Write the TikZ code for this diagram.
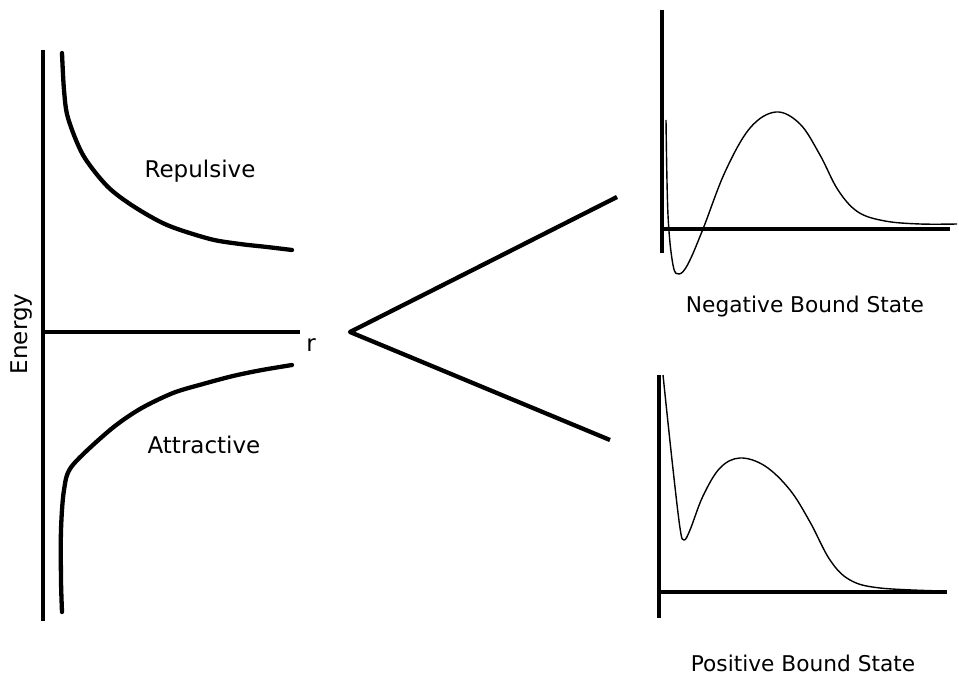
\documentclass[tikz,border=0pt]{standalone}
\usepackage{fontspec}
\setmainfont{DejaVu Sans}
\begin{document}
\begin{tikzpicture}[x=1pt,y=-1pt,
  axis/.style={line width=4pt},
  curve/.style={line width=4.3pt, line join=round, line cap=round},
  wave/.style={line width=1.4pt, line join=round},
  biglabel/.style={font=\fontsize{23}{27}\selectfont, inner sep=0pt},
  statelabel/.style={font=\fontsize{21.7}{26}\selectfont, inner sep=0pt}]
\fill[white] (0,0) rectangle (959,679);
\useasboundingbox (0,0) rectangle (959,679);
% left potential diagram
\coordinate (etop) at (43,50);
\coordinate (ebot) at (43,621);
\coordinate (rend) at (300,332);
\coordinate (origin) at (41,332);
\draw[axis] (etop) -- (ebot);
\draw[axis] (origin) -- (rend);
\node[biglabel, rotate=90] (energy) at (22,334) {Energy};
\node[biglabel] (r) at (311,345) {r};
\draw[curve] plot[smooth, tension=0.5] coordinates {(62,53) (64,90) (68,118) (83,155) (107,186) (133,206) (167,225) (210,239) (240,244) (267,247) (292,250)};
\draw[curve] plot[smooth, tension=0.5] coordinates {(292,365) (262,370) (233,376) (203,384) (173,393) (140,409) (110,430) (72,466) (64,490) (61,530) (61,580) (62,612)};
\node[biglabel] (rep) at (200,171) {Repulsive};
\node[biglabel] (att) at (204,445) {Attractive};
% V
\coordinate (vtip) at (350,332);
\coordinate (vup) at (617,197);
\coordinate (vdown) at (610,440);
\draw[curve, line cap=butt] (vup) -- (vtip) -- (vdown);
% negative bound state
\draw[line width=3.5pt] (662,10) -- (662,253);
\draw[line width=3.5pt] (660,229) -- (950,229);
\draw[wave] plot[smooth, tension=0.6] coordinates {(666,120) (668,215) (673,265) (679,274) (688,264) (703,229) (725,172) (750,128) (776,112) (800,124) (820,155) (838,190) (858,212) (885,221) (920,224) (957,224)};
\node[statelabel] (neg) at (805,307) {Negative Bound State};
% positive bound state
\draw[line width=3.5pt] (659,375) -- (659,618);
\draw[line width=3.5pt] (657,592) -- (947,592);
\draw[wave] plot[smooth, tension=0.6] coordinates {(663,375) (672,460) (680,528) (684,540) (690,530) (703,496) (720,468) (740,458) (765,466) (790,490) (810,522) (830,560) (850,580) (880,588) (942,591)};
\node[statelabel] (pos) at (803,663) {Positive Bound State};
\end{tikzpicture}
\end{document}
